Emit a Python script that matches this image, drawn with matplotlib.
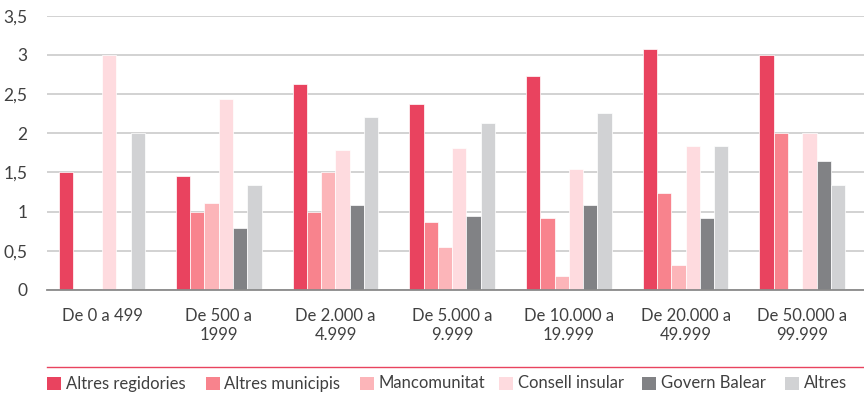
import matplotlib
matplotlib.use("Agg")
import matplotlib.pyplot as plt
from matplotlib.patches import Rectangle
from matplotlib.lines import Line2D
import numpy as np

plt.rcParams['font.family'] = ['Lato', 'DejaVu Sans']

categories = ["De 0 a 499", "De 500 a\n1999", "De 2.000 a\n4.999", "De 5.000 a\n9.999",
              "De 10.000 a\n19.999", "De 20.000 a\n49.999", "De 50.000 a\n99.999"]

series_names = ["Altres regidories", "Altres municipis", "Mancomunitat",
                "Consell insular", "Govern Balear", "Altres"]

altres_regidories = [1.50, 1.45, 2.63, 2.37, 2.73, 3.07, 3.00]
altres_municipis  = [0.00, 1.00, 1.00, 0.87, 0.92, 1.24, 2.00]
mancomunitat      = [0.00, 1.11, 1.50, 0.55, 0.18, 0.32, 0.00]
consell_insular   = [3.00, 2.44, 1.79, 1.81, 1.55, 1.84, 2.00]
govern_balear     = [0.00, 0.79, 1.08, 0.94, 1.08, 0.92, 1.65]
altres            = [2.00, 1.34, 2.21, 2.13, 2.26, 1.84, 1.34]

series = [altres_regidories, altres_municipis, mancomunitat,
          consell_insular, govern_balear, altres]
colors = ["#E9435F", "#F8838D", "#FCB5B9", "#FEDBDF", "#818285", "#D1D2D4"]

yticks = [0, 0.5, 1, 1.5, 2, 2.5, 3, 3.5]
ytick_labels = ["0", "0,5", "1", "1,5", "2", "2,5", "3", "3,5"]

W, H = 864, 398
fig = plt.figure(figsize=(W / 100, H / 100), dpi=100)
ax = fig.add_axes([47 / W, (H - 290) / H, (864 - 47) / W, (290 - 15.7) / H])

x = np.arange(len(categories))
bw = 0.1225
n = len(series)
for i, (vals, col) in enumerate(zip(series, colors)):
    offs = (i - (n - 1) / 2) * bw
    ax.bar(x + offs, vals, width=bw, color=col, edgecolor="white",
           linewidth=0.5, zorder=2)

ax.set_xlim(-0.472, 6.529)
ax.set_ylim(0, 3.5)
ax.set_yticks(yticks)
ax.set_yticklabels(ytick_labels, fontsize=12.5, color="#404040")
ax.set_xticks(x)
ax.set_xticklabels(categories, fontsize=12, color="#404040", linespacing=1.2)
ax.tick_params(axis="both", length=0)
ax.tick_params(axis="y", pad=14)
ax.tick_params(axis="x", pad=13)

ax.grid(axis="y", color="#C6C6C6", linewidth=1.1, zorder=0)
ax.set_axisbelow(True)
for s in ["top", "right", "left"]:
    ax.spines[s].set_visible(False)
ax.spines["bottom"].set_color("#8A8A8A")
ax.spines["bottom"].set_linewidth(1.3)
ax.spines["bottom"].set_zorder(3)

# separator line above the legend
fig.add_artist(Line2D([47 / W, 1.0], [(H - 367) / H, (H - 367) / H],
                      color="#E9435F", linewidth=1.0))

# legend entries
legend_x = [47, 205.5, 360, 498.6, 642.4, 785]
for lx, name, col in zip(legend_x, series_names, colors):
    fig.add_artist(Rectangle((lx / W, (H - 390) / H), 14 / W, 13 / H,
                             transform=fig.transFigure, facecolor=col,
                             edgecolor="none"))
    fig.text((lx + 19) / W, (H - 383.5) / H, name, fontsize=12,
             color="#404040", va="center", ha="left")

fig.savefig("out.png", dpi=100)
